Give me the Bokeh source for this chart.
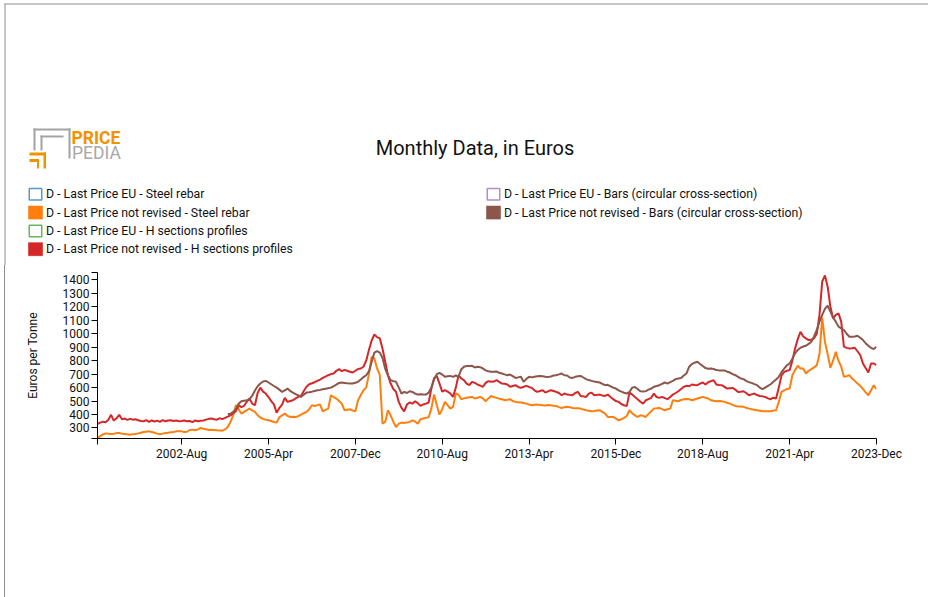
import numpy as np
from bokeh.plotting import figure
from bokeh.models import Range1d, FixedTicker
from bokeh.core.properties import value
from bokeh.embed import file_html
from bokeh.resources import INLINE

FONT = "Roboto"

# ---------------- data (monthly, Jan 2000 .. Dec 2023) ----------------
# D - Last Price not revised - H sections profiles
h_sections = [
    330, 340, 347, 343, 362, 398, 355, 372, 398, 365, 370, 360,
    368, 362, 365, 358, 352, 350, 358, 345, 356, 348, 355, 345,
    358, 350, 355, 358, 352, 355, 350, 352, 356, 350, 352, 344,
    356, 350, 353, 356, 362, 368, 370, 365, 362, 372, 366, 375,
    385, 394, 410, 425, 469, 455, 465, 495, 519, 481, 469, 560,
    600, 570, 556, 530, 500, 475, 414, 449, 474, 524, 494, 500,
    506, 520, 531, 540, 575, 606, 625, 632, 640, 650, 660, 672,
    682, 692, 700, 705, 725, 737, 722, 732, 725, 718, 712, 725,
    738, 742, 755, 800, 880, 950, 995, 975, 966, 891, 792, 692,
    630, 590, 568, 494, 450, 424, 474, 490, 481, 499, 485, 464,
    475, 481, 489, 593, 670, 687, 630, 570, 581, 570, 556, 531,
    600, 690, 670, 655, 630, 618, 643, 635, 623, 615, 606, 635,
    648, 643, 645, 655, 642, 630, 628, 623, 606, 612, 618, 605,
    598, 606, 613, 605, 598, 580, 568, 575, 581, 563, 572, 581,
    575, 568, 560, 543, 556, 548, 546, 543, 560, 568, 538, 535,
    531, 555, 563, 543, 546, 548, 542, 538, 548, 530, 514, 500,
    494, 478, 469, 464, 563, 548, 530, 514, 495, 481, 506, 515,
    524, 556, 530, 524, 531, 522, 514, 530, 548, 560, 573, 590,
    606, 613, 610, 623, 620, 618, 630, 638, 623, 640, 648, 655,
    623, 620, 618, 606, 593, 596, 598, 585, 568, 570, 573, 560,
    543, 550, 556, 545, 538, 535, 531, 520, 514, 525, 519, 600,
    690, 717, 725, 730, 800, 891, 960, 1015, 980, 966, 953, 955,
    966, 1000, 1140, 1388, 1433, 1351, 1202, 1115, 1140, 1152, 1090, 904,
    895, 891, 892, 896, 870, 842, 780, 745, 712, 779, 779, 767,
]

# D - Last Price not revised - Steel rebar
steel_rebar = [
    222, 240, 252, 260, 257, 255, 258, 262, 263, 258, 255, 253,
    250, 253, 255, 260, 265, 270, 273, 275, 270, 265, 258, 253,
    258, 263, 265, 268, 270, 275, 276, 275, 270, 272, 285, 288,
    283, 290, 300, 294, 290, 285, 287, 285, 283, 282, 280, 290,
    307, 345, 394, 470, 440, 407, 420, 432, 444, 430, 419, 395,
    378, 368, 362, 358, 352, 345, 340, 380, 394, 407, 390, 382,
    384, 382, 388, 399, 410, 419, 440, 469, 464, 470, 474, 424,
    435, 444, 543, 530, 519, 500, 481, 432, 436, 439, 430, 424,
    506, 545, 581, 600, 700, 829, 817, 742, 692, 332, 345, 432,
    394, 345, 307, 332, 340, 338, 340, 345, 357, 348, 332, 365,
    370, 375, 380, 444, 548, 469, 399, 440, 494, 469, 444, 457,
    556, 548, 514, 520, 524, 528, 531, 519, 525, 531, 520, 499,
    520, 538, 530, 524, 518, 514, 506, 510, 514, 500, 494, 492,
    489, 485, 481, 475, 469, 472, 474, 470, 469, 468, 470, 469,
    466, 464, 455, 449, 455, 457, 455, 449, 447, 446, 444, 438,
    432, 428, 424, 426, 430, 432, 420, 407, 382, 382, 382, 370,
    357, 365, 375, 389, 432, 410, 394, 382, 394, 390, 382, 405,
    424, 444, 446, 449, 440, 432, 440, 444, 506, 502, 499, 508,
    514, 515, 514, 506, 512, 519, 525, 531, 525, 519, 506, 502,
    499, 500, 499, 494, 488, 481, 472, 464, 460, 459, 457, 450,
    444, 440, 436, 432, 428, 424, 424, 425, 424, 430, 432, 494,
    568, 580, 590, 593, 692, 730, 762, 742, 742, 705, 725, 737,
    750, 767, 850, 1120, 941, 850, 747, 800, 866, 800, 755, 680,
    685, 692, 668, 650, 630, 613, 590, 565, 543, 580, 618, 588,
]

# D - Last Price not revised - Bars (circular cross-section), from Jan 2004
bars_start = 48
bars = [
    402, 405, 420, 440, 480, 499, 503, 506, 512, 540, 578, 610,
    630, 645, 650, 638, 625, 612, 600, 585, 568, 580, 593, 575,
    563, 552, 542, 531, 548, 563, 566, 570, 575, 580, 583, 588,
    592, 596, 600, 610, 622, 635, 638, 635, 632, 630, 630, 636,
    643, 660, 678, 692, 720, 790, 860, 871, 860, 820, 740, 692,
    655, 648, 643, 600, 556, 568, 560, 573, 568, 556, 548, 550,
    548, 548, 563, 600, 660, 700, 710, 697, 680, 685, 687, 680,
    690, 680, 735, 755, 760, 760, 762, 750, 755, 752, 742, 728,
    722, 718, 717, 720, 710, 705, 698, 692, 697, 685, 672, 676,
    680, 643, 665, 680, 676, 680, 684, 687, 684, 680, 678, 682,
    690, 692, 698, 705, 692, 690, 675, 672, 680, 684, 687, 675,
    663, 656, 650, 645, 642, 638, 628, 618, 621, 610, 600, 593,
    580, 570, 562, 556, 568, 600, 605, 590, 573, 572, 573, 585,
    593, 606, 612, 618, 628, 638, 630, 640, 650, 663, 668, 672,
    690, 705, 755, 775, 785, 792, 775, 760, 745, 740, 742, 738,
    730, 728, 727, 728, 718, 712, 700, 692, 680, 668, 663, 650,
    640, 635, 626, 618, 600, 588, 600, 613, 625, 643, 660, 680,
    715, 742, 765, 779, 815, 854, 880, 896, 905, 911, 925, 941,
    980, 1028, 1090, 1140, 1185, 1209, 1164, 1120, 1090, 1053, 1040, 1028,
    1000, 978, 978, 980, 985, 970, 953, 930, 911, 895, 886, 904,
]

x_tick_months = [0, 31, 63, 95, 127, 159, 191, 223, 255, 287]
x_tick_labels = ["", "2002-Aug", "2005-Apr", "2007-Dec", "2010-Aug",
                 "2013-Apr", "2015-Dec", "2018-Aug", "2021-Apr", "2023-Dec"]
y_ticks = [300, 400, 500, 600, 700, 800, 900, 1000, 1100, 1200, 1300, 1400]
y_min, y_max = 222, 1455

legend_labels = [
    "D - Last Price EU - Steel rebar",
    "D - Last Price not revised - Steel rebar",
    "D - Last Price EU - H sections profiles",
    "D - Last Price not revised - H sections profiles",
    "D - Last Price EU - Bars (circular cross-section)",
    "D - Last Price not revised - Bars (circular cross-section)",
]
legend_colors = ["#1f77b4", "#ff7f0e", "#2ca02c", "#d62728", "#9467bd", "#8c564b"]
legend_filled = [False, True, False, True, False, True]

title_text = "Monthly Data, in Euros"

HW = 928
HEADER_H = 265
frame_col = "#8c8c8c"

# ---------------- header figure: logo, title, legend (page pixel coords) ----------------
h = figure(width=HW, height=HEADER_H, output_backend="svg", toolbar_location=None,
           x_range=Range1d(0, HW), y_range=Range1d(HEADER_H, 0),
           min_border=0, outline_line_color=None)
h.axis.visible = False
h.grid.visible = False
h.background_fill_color = "white"
h.border_fill_color = "white"

h.line([4, HW], [3.5, 3.5], line_color=frame_col, line_width=1)
h.line([4.5, 4.5], [3, HEADER_H], line_color=frame_col, line_width=1)

gray = "#a3a3a3"
og = "#f39200"
h.quad(left=[33, 33, 40, 40, 68], right=[70, 35, 63, 42, 70],
       top=[128, 128, 135, 135, 128], bottom=[130, 150, 137, 150, 158],
       fill_color=gray, line_color=None)
h.quad(left=[29, 43, 29, 36.5], right=[45.5, 45.5, 38.5, 38.5],
       top=[152, 152, 158.5, 158.5], bottom=[155, 168, 161.5, 168],
       fill_color=og, line_color=None)
h.text([71], [137], text=["PRICE"], text_font=value(FONT), text_font_style="bold",
       text_font_size="17.5px", text_color=og, text_baseline="middle", text_align="left")
h.text([71.5], [152.5], text=["PEDIA"], text_font=value(FONT),
       text_font_size="17.5px", text_color="#a8a8a8", text_baseline="middle", text_align="left")

h.text([474.5], [147], text=[title_text], text_font=value(FONT), text_font_size="20px",
       text_color="#111111", text_baseline="middle", text_align="center")

leg_x = [28, 28, 28, 28, 486, 486]
leg_y = [193.8, 212.1, 230.4, 248.7, 193.8, 212.1]
for lx, ly, lab, col, filled in zip(leg_x, leg_y, legend_labels, legend_colors, legend_filled):
    if filled:
        h.quad(left=[lx], right=[lx + 14], top=[ly - 6.5], bottom=[ly + 6.5],
               fill_color=col, line_color=col, line_alpha=0.6)
    else:
        h.quad(left=[lx + 0.75], right=[lx + 13.25], top=[ly - 5.75], bottom=[ly + 5.75],
               fill_color="white", line_color=col, line_width=1.5, line_alpha=0.75)
    h.text([lx + 17.5], [ly], text=[lab], text_font=value(FONT), text_font_size="12.3px",
           text_color="#111111", text_baseline="middle", text_align="left")

# ---------------- chart figure ----------------
OFF = 5          # chart canvas starts at page x = 5 (4px margin + 1px frame border)
CW = 920 - OFF
CH = 332
p = figure(width=CW, height=CH, output_backend="svg", toolbar_location=None,
           x_range=Range1d(0, 287), y_range=Range1d(y_min, y_max),
           min_border_left=97 - OFF, min_border_right=920 - 876, min_border_top=7,
           min_border_bottom=CH - 173, outline_line_color=None)
p.styles = {"margin-left": "4px", "border-left": "1px solid " + frame_col}
p.grid.visible = False
p.background_fill_color = "white"
p.border_fill_color = "white"

p.line(list(range(len(steel_rebar))), steel_rebar, line_color="#ff7f0e", line_width=2)
p.line(list(range(len(h_sections))), h_sections, line_color="#d62728", line_width=2)
p.line(list(range(bars_start, bars_start + len(bars))), bars, line_color="#8c564b", line_width=2)

xa = p.xaxis[0]
xa.ticker = FixedTicker(ticks=x_tick_months)
xa.major_label_overrides = {m: lab for m, lab in zip(x_tick_months, x_tick_labels)}
ya = p.yaxis[0]
ya.ticker = FixedTicker(ticks=[y_min] + y_ticks + [y_max])
ya.major_label_overrides = {y_min: "", y_max: ""}
ya.axis_label = "Euros per Tonne"
ya.axis_label_standoff = 20

for ax in (xa, ya):
    ax.axis_line_color = "black"
    ax.major_tick_line_color = "black"
    ax.major_tick_out = 6
    ax.major_tick_in = 0
    ax.minor_tick_line_color = None
    ax.major_label_text_font = FONT
    ax.major_label_text_font_size = "12px"
    ax.major_label_text_color = "#111111"
    ax.major_label_standoff = 2
    ax.axis_label_text_font = FONT
    ax.axis_label_text_font_size = "12px"
    ax.axis_label_text_font_style = "normal"
    ax.axis_label_text_color = "#111111"

open("out.html", "w").write(file_html([h, p], INLINE))
